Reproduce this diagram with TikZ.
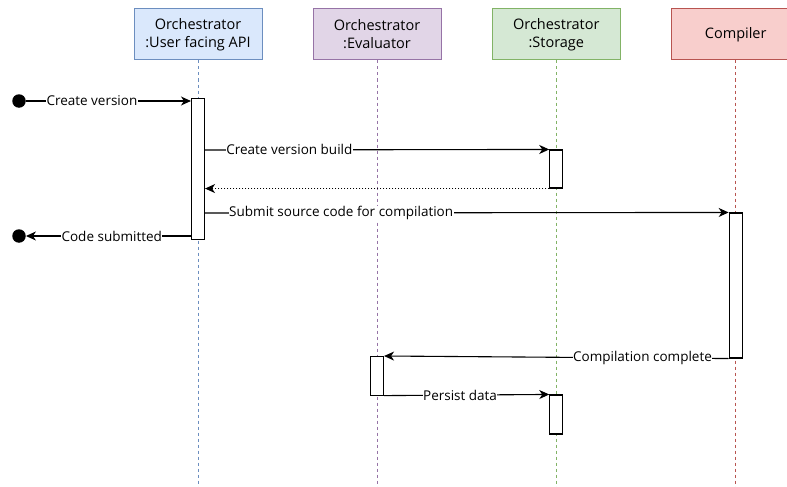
\documentclass[tikz,border=0pt]{standalone}
\usepackage{fontspec}
\setmainfont{Open Sans}
\usetikzlibrary{arrows.meta}
\definecolor{apiFill}{HTML}{DAE8FC}\definecolor{apiLine}{HTML}{6C8EBF}
\definecolor{evFill}{HTML}{E1D5E7}\definecolor{evLine}{HTML}{9673A6}
\definecolor{stFill}{HTML}{D5E8D4}\definecolor{stLine}{HTML}{82B366}
\definecolor{coFill}{HTML}{F8CECC}\definecolor{coLine}{HTML}{B85450}
\begin{document}
\begin{tikzpicture}[x=1pt,y=-1pt,
  font=\fontsize{13.5}{16}\selectfont,
  header/.style={draw, line width=1pt, minimum width=128pt, minimum height=51pt, align=center, inner sep=0pt, font=\fontsize{14.5}{18}\selectfont},
  lifeline/.style={dashed, dash pattern=on 3pt off 3pt, line width=0.9pt},
  actbox/.style={draw=black, fill=white, line width=1.1pt, minimum width=13pt, inner sep=0pt},
  msg/.style={line width=1.1pt, -{Stealth[length=10pt,width=9pt,inset=3pt]}},
  ret/.style={line width=1pt, dotted, -{Stealth[length=10pt,width=9pt,inset=3pt]}},
  lbl/.style={fill=white, inner sep=0.5pt},
  enddot/.style={circle, fill=black, minimum size=13.5pt, inner sep=0pt}]
\useasboundingbox (0,0) rectangle (787,487);

% participants
\node[header, fill=apiFill, draw=apiLine] (api) at (198,34.5) {Orchestrator\\:User facing API};
\node[header, fill=evFill, draw=evLine] (ev) at (377,34.5) {Orchestrator\\:Evaluator};
\node[header, fill=stFill, draw=stLine] (st) at (556.3,34.5) {Orchestrator\\:Storage};
\node[header, fill=coFill, draw=coLine] (co) at (735.7,34.5) {Compiler};

% lifelines
\coordinate (apiEnd) at (198,487);
\coordinate (evEnd) at (377,487);
\coordinate (stEnd) at (556.3,487);
\coordinate (coEnd) at (735.7,487);
\draw[lifeline, apiLine] (api.south) -- (apiEnd);
\draw[lifeline, evLine] (ev.south) -- (evEnd);
\draw[lifeline, stLine] (st.south) -- (stEnd);
\draw[lifeline, coLine] (co.south) -- (coEnd);

% activation bars
\node[actbox, minimum height=141pt] (aA) at (198,168.7) {};
\node[actbox, minimum height=38pt] (aS1) at (556.3,169) {};
\node[actbox, minimum height=145pt] (aC) at (735.7,285.5) {};
\node[actbox, minimum height=38.5pt] (aE) at (377,375.8) {};
\node[actbox, minimum height=39pt] (aS2) at (556.3,414.5) {};

% start / end points
\node[enddot] (start) at (19,101) {};
\node[enddot] (stop) at (19,236) {};

% messages
\draw[msg] (start) -- (aA.west |- start) node[lbl, pos=0.4] {Create version};
\draw[msg] (aA.east |- 0,150) -- (aS1.north west) node[lbl, pos=0.245] {Create version build};
\draw[ret] (aS1.south west) -- (aA.east |- aS1.south west);
\draw[msg] (aA.east |- 0,213) -- (aC.north west) node[lbl, pos=0.26] {Submit source code for compilation};
\draw[msg] (aA.west |- stop) -- (stop) node[lbl, pos=0.48] {Code submitted};
\draw[msg] (aC.south west) -- (aE.north east) node[lbl, pos=0.25] {Compilation complete};
\draw[msg] (aE.south east) -- (aS2.north west) node[lbl, pos=0.46] {Persist data};
\end{tikzpicture}
\end{document}
